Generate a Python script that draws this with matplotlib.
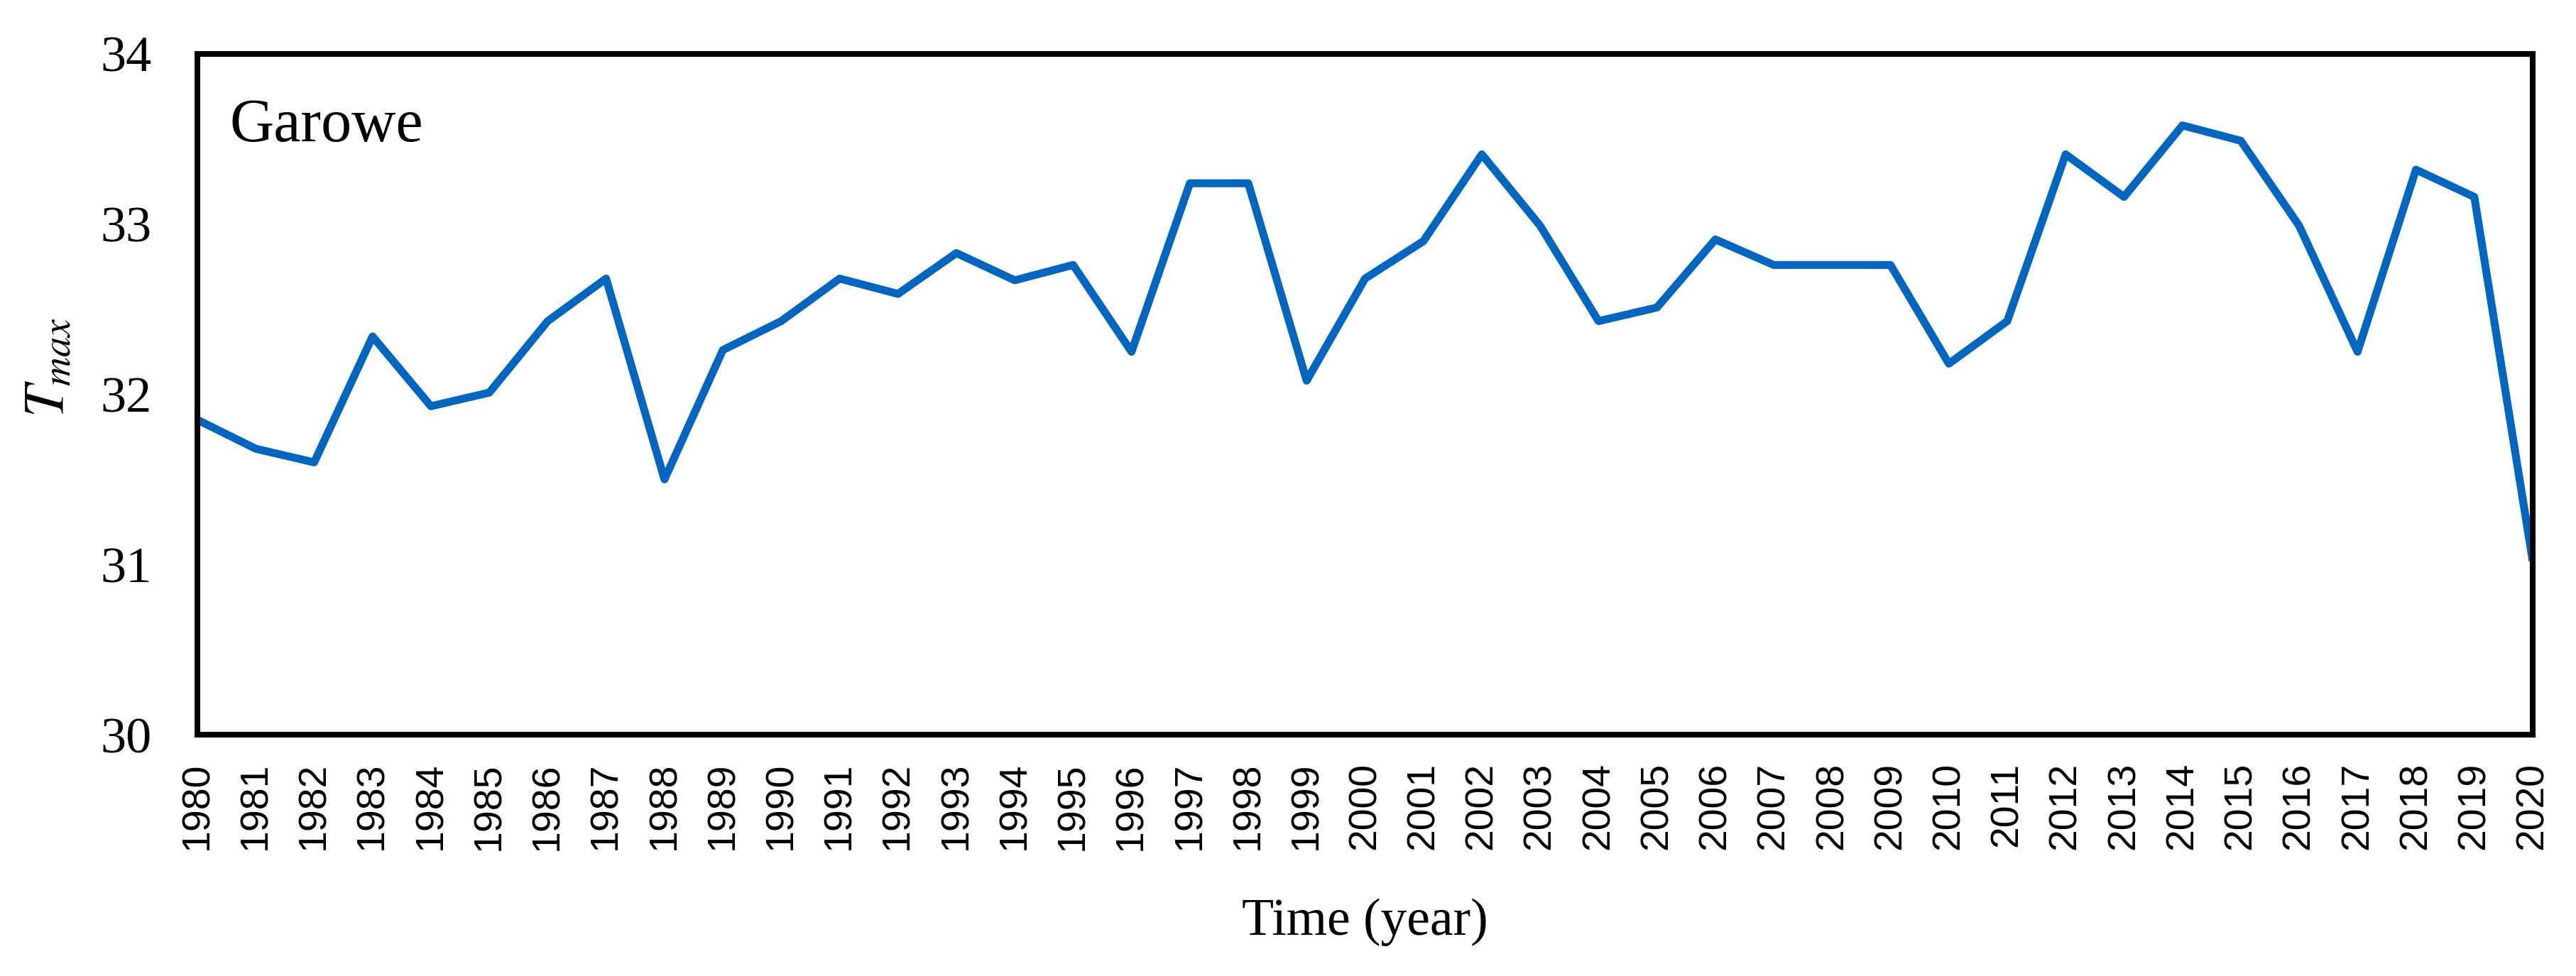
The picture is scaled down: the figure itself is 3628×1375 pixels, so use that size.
import matplotlib
matplotlib.use("Agg")
import matplotlib.pyplot as plt

years = list(range(1980, 2021))
tmax = [31.85, 31.68, 31.60, 32.34, 31.93, 32.01, 32.43, 32.68, 31.50, 32.26,
        32.43, 32.68, 32.59, 32.83, 32.67, 32.76, 32.25, 33.24, 33.24, 32.08,
        32.68, 32.90, 33.41, 32.99, 32.43, 32.51, 32.91, 32.76, 32.76, 32.76,
        32.18, 32.43, 33.41, 33.16, 33.58, 33.49, 32.99, 32.25, 33.32, 33.16,
        31.02]
yticks = [30, 31, 32, 33, 34]
station = "Garowe"

plt.rcParams['mathtext.fontset'] = 'stix'

fig = plt.figure(figsize=(36.28, 13.75), dpi=100)
ax = fig.add_axes([0.07663, 0.24727, 0.90656, 0.69746])

ax.plot(years, tmax, color='#0066C0', lw=8, solid_joinstyle='round',
        solid_capstyle='butt', clip_on=True)

ax.set_xlim(1980, 2020)
ax.set_ylim(30, 34)
ax.set_xticks(years)
ax.set_xticklabels([str(y) for y in years], rotation=90, family='Liberation Sans',
                   fontsize=40, va='top', ha='center')
ax.set_yticks(yticks)
ax.set_yticklabels([str(v) for v in yticks], family='Liberation Serif', fontsize=52)
ax.tick_params(axis='both', length=0)
ax.tick_params(axis='x', pad=28)
ax.tick_params(axis='y', pad=46)

for s in ax.spines.values():
    s.set_linewidth(5.8)
    s.set_color('black')

ax.text(0.0137, 0.872, station, transform=ax.transAxes, family='Liberation Serif',
        fontsize=62, ha='left', va='baseline')

ax.set_xlabel("Time (year)", family='Liberation Serif', fontsize=53, va='center')
ax.xaxis.set_label_coords(0.5, -0.276)
ax.set_ylabel(r"$T_{max}$", fontsize=58, va='center', ha='center')
ax.yaxis.set_label_coords(-0.0638, 0.54)

fig.savefig("out.png", dpi=100)
